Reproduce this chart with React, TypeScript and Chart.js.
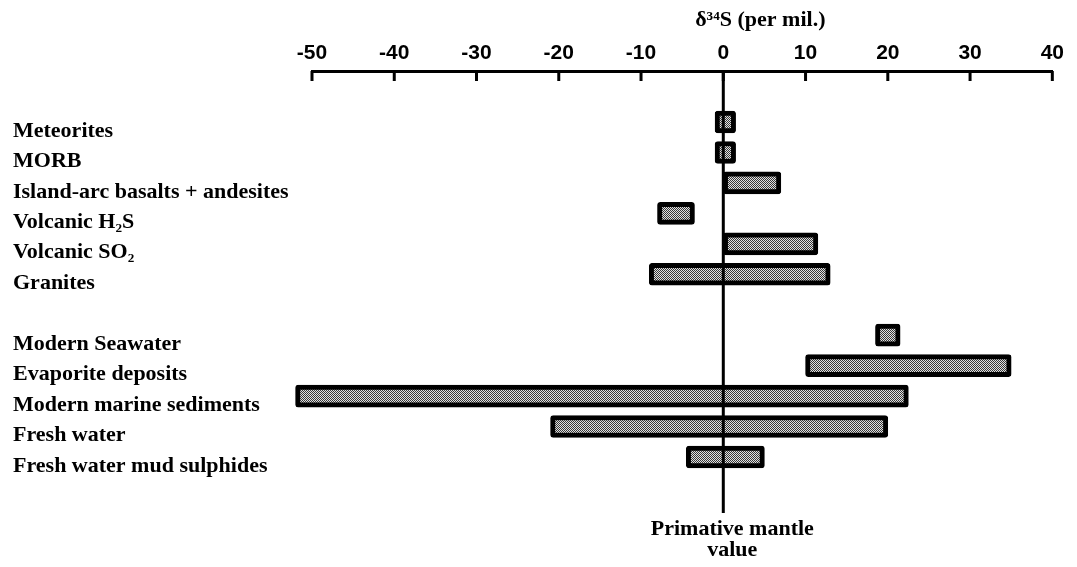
import React, { useEffect, useRef } from 'react';
import { Chart, registerables } from 'chart.js';

Chart.register(...registerables);

// ---- data ----
const categories = [
  'Meteorites',
  'MORB',
  'Island-arc basalts + andesites',
  'Volcanic H₂S',
  'Volcanic SO₂',
  'Granites',
  '',
  'Modern Seawater',
  'Evaporite deposits',
  'Modern marine sediments',
  'Fresh water',
  'Fresh water mud sulphides',
];
const rangeLow: (number | null)[] = [-1, -1, 0, -8, 0, -9, null, 18.5, 10, -52, -21, -4.5];
const rangeHigh: (number | null)[] = [1.5, 1.5, 7, -3.5, 11.5, 13, null, 21.5, 35, 22.5, 20, 5];
const xTicks = [-50, -40, -30, -20, -10, 0, 10, 20, 30, 40];
const axisTitle = 'δ³⁴S (per mil.)';
const referenceValue = 0;
const referenceLabel = ['Primative mantle', 'value'];

const SERIF = '"Liberation Serif", "Times New Roman", serif';

function makePattern(): CanvasPattern | string {
  const c = document.createElement('canvas');
  c.width = 2;
  c.height = 2;
  const g = c.getContext('2d');
  if (!g) return '#999';
  g.fillStyle = '#e2e2e2';
  g.fillRect(0, 0, 2, 2);
  g.fillStyle = '#383838';
  g.fillRect(0, 0, 1, 1);
  g.fillRect(1, 1, 1, 1);
  const p = g.createPattern(c, 'repeat');
  return p || '#999';
}

const decorPlugin = {
  id: 'decor',
  afterDatasetsDraw(chart: any) {
    const { ctx, chartArea } = chart;
    const x = chart.scales.x;
    const px0 = x.getPixelForValue(referenceValue);
    ctx.save();
    ctx.strokeStyle = '#000';
    ctx.lineWidth = 3;
    ctx.beginPath();
    ctx.moveTo(px0, chartArea.top);
    ctx.lineTo(px0, chartArea.bottom);
    ctx.stroke();
    ctx.restore();
  },
  afterDraw(chart: any) {
    const { ctx, chartArea } = chart;
    const x = chart.scales.x;
    ctx.save();
    ctx.strokeStyle = '#000';
    ctx.lineWidth = 3;
    x.ticks.forEach((t: any) => {
      const px = x.getPixelForValue(t.value);
      ctx.beginPath();
      ctx.moveTo(px, chartArea.top);
      ctx.lineTo(px, chartArea.top + 10);
      ctx.stroke();
    });
    ctx.fillStyle = '#000';
    ctx.textAlign = 'center';
    ctx.textBaseline = 'middle';
    ctx.font = `bold 22px ${SERIF}`;
    ctx.fillText(axisTitle, x.getPixelForValue(4.5), 12);
    ctx.font = `bold 22px ${SERIF}`;
    const cx = x.getPixelForValue(referenceValue) + 9;
    ctx.fillText(referenceLabel[0], cx, chartArea.bottom + 16);
    ctx.fillText(referenceLabel[1], cx, chartArea.bottom + 37);
    ctx.restore();
  },
};

export default function App() {
  const ref = useRef<HTMLCanvasElement | null>(null);
  useEffect(() => {
    if (!ref.current) return;
    const pattern = makePattern();
    const data = categories
      .map((c, i) => ({ i, c }))
      .filter((d) => rangeLow[d.i] !== null && rangeHigh[d.i] !== null)
      .map((d) => ({ x: [rangeLow[d.i] as number, rangeHigh[d.i] as number], y: d.i }));
    const chart = new Chart(ref.current, {
      type: 'bar',
      data: {
        datasets: [
          {
            data: data as any,
            backgroundColor: pattern as any,
            borderColor: '#000',
            borderWidth: 5,
            borderRadius: 3,
            borderSkipped: false,
            barThickness: 22,
            clip: false as any,
          },
        ],
      },
      options: {
        indexAxis: 'y',
        animation: false,
        responsive: false,
        layout: { padding: { left: 5, right: 11, top: 0, bottom: 46 } },
        plugins: {
          legend: { display: false },
          tooltip: { enabled: false },
        },
        scales: {
          x: {
            type: 'linear',
            position: 'top',
            min: -50,
            max: 40,
            afterBuildTicks: (s: any) => {
              s.ticks = xTicks.map((v) => ({ value: v }));
            },
            afterFit: (s: any) => {
              s.height = 63;
            },
            grid: { display: false, drawTicks: false },
            border: { display: true, color: '#000', width: 3 },
            ticks: {
              color: '#000',
              padding: 5,
              maxRotation: 0,
              font: { family: '"Liberation Sans Narrow", "Liberation Sans", sans-serif', size: 21, weight: 'bold' },
              callback: (v: any) => String(v),
            },
          },
          y: {
            type: 'linear',
            reverse: true,
            offset: false,
            min: -1.675,
            max: 12.84,
            afterBuildTicks: (s: any) => {
              s.ticks = categories
                .map((c, i) => ({ value: i, c }))
                .filter((t) => t.c !== '')
                .map((t) => ({ value: t.value }));
            },
            afterFit: (s: any) => {
              s.width = 299;
            },
            grid: { display: false, drawTicks: false, offset: false },
            border: { display: false },
            ticks: {
              color: '#000',
              crossAlign: 'far',
              labelOffset: 9,
              font: { family: SERIF, size: 22, weight: 'bold' },
              callback: (v: any) => categories[v as number] ?? '',
            },
          },
        },
      },
      plugins: [decorPlugin],
    });
    return () => chart.destroy();
  }, []);
  return <canvas ref={ref} width={1061} height={551} style={{ display: 'block' }} />;
}
